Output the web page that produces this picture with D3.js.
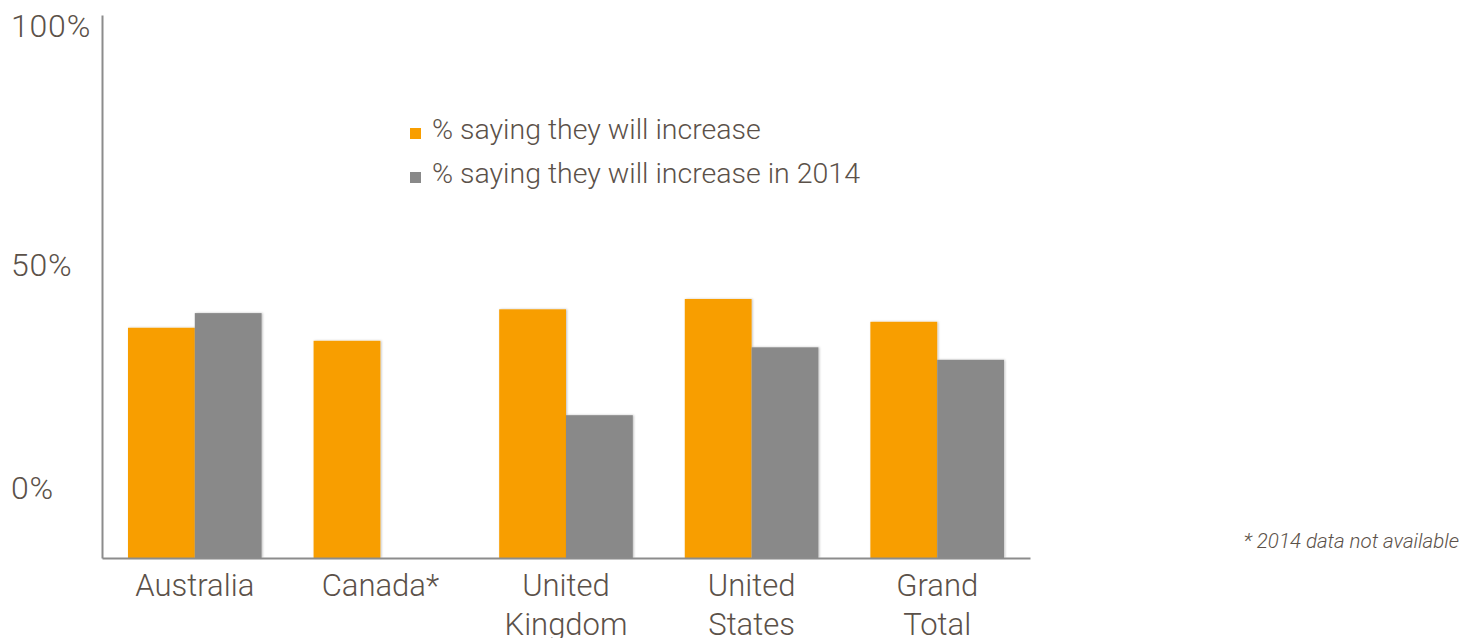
<!DOCTYPE html>
<html>
<head>
<meta charset="utf-8">
<script src="https://cdn.jsdelivr.net/npm/d3@7"></script>
<style>
  body { margin: 0; background: #fff; }
  text { font-family: "Roboto", "Liberation Sans", sans-serif; font-weight: 300; fill: #5b5149; }
</style>
</head>
<body>
<div id="chart"></div>
<script>
// Data
const categories = ["Australia", "Canada*", "United Kingdom", "United States", "Grand Total"];
const categoryLines = [["Australia"], ["Canada*"], ["United", "Kingdom"], ["United", "States"], ["Grand", "Total"]];
const seriesNames = ["% saying they will increase", "% saying they will increase in 2014"];
const increaseNow = [42.4, 40.0, 45.8, 47.7, 43.5];
const increase2014 = [45.1, null, 26.3, 38.8, 36.5];
const tickValues = [0, 50, 100];
const tickLabels = ["0%", "50%", "100%"];
const footnote = "* 2014 data not available";

const colors = ["#f89e00", "#898989"];

const width = 1475, height = 638;

const svg = d3.select("#chart")
  .append("svg")
  .attr("width", width)
  .attr("height", height);

// light shadow on the bars
const defs = svg.append("defs");
const filter = defs.append("filter").attr("id", "shadow")
  .attr("x", "-10%").attr("y", "-10%").attr("width", "120%").attr("height", "120%");
filter.append("feDropShadow")
  .attr("dx", 1).attr("dy", 0).attr("stdDeviation", 0.8)
  .attr("flood-color", "#000").attr("flood-opacity", 0.25);

const x0 = d3.scaleBand()
  .domain(categories)
  .range([102, 1030])
  .paddingInner(0.28)
  .paddingOuter(0.14);

const x1 = d3.scaleBand()
  .domain([0, 1])
  .range([0, x0.bandwidth()]);

const y = d3.scaleLinear()
  .domain([0, 100])
  .range([558, 15]);

// tick labels sit off the value positions in the original
const yLabel = d3.scaleLinear()
  .domain(tickValues)
  .range([488, 265, 26]);

const rows = categories.map(function(c, i) {
  return { cat: c, values: [increaseNow[i], increase2014[i]] };
});

// bars
const groups = svg.append("g")
  .selectAll("g")
  .data(rows)
  .enter().append("g")
  .attr("transform", function(d) { return "translate(" + x0(d.cat) + ",0)"; });

groups.selectAll("rect")
  .data(function(d) {
    return d.values.map(function(v, k) { return { k: k, v: v }; })
      .filter(function(e) { return e.v != null; });
  })
  .enter().append("rect")
  .attr("x", function(d) { return x1(d.k); })
  .attr("width", x1.bandwidth())
  .attr("y", function(d) { return y(d.v); })
  .attr("height", function(d) { return y(0) - y(d.v); })
  .attr("fill", function(d) { return colors[d.k]; })
  .attr("filter", "url(#shadow)");

// y axis line
const yAxis = svg.append("g")
  .attr("transform", "translate(102,0)")
  .call(d3.axisLeft(y).tickValues([]).tickSizeOuter(0));
yAxis.select(".domain").attr("stroke", "#8c8c8c").attr("stroke-width", 2);

// y tick labels
const yLabels = svg.append("g")
  .attr("transform", "translate(11,0)")
  .call(d3.axisRight(yLabel).tickValues(tickValues).tickSize(0).tickPadding(0)
    .tickFormat(function(d, i) { return tickLabels[i]; }));
yLabels.select(".domain").remove();
yLabels.selectAll("text")
  .style("font-size", "32px")
  .style("letter-spacing", "0.8px")
  .style("font-family", null)
  .attr("fill", "#5b5149");

// x axis
const xAxis = svg.append("g")
  .attr("transform", "translate(0,558)")
  .call(d3.axisBottom(x0).tickSize(0).tickSizeOuter(0).tickFormat(""));
xAxis.select(".domain").attr("stroke", "#8c8c8c").attr("stroke-width", 2);

xAxis.selectAll(".tick").each(function(d, i) {
  const t = d3.select(this).append("text")
    .attr("text-anchor", "middle")
    .style("font-size", "31px");
  categoryLines[i].forEach(function(line, j) {
    t.append("tspan")
      .attr("x", 0)
      .attr("y", 38 + j * 39)
      .text(line);
  });
});

// legend
const legend = svg.append("g")
  .attr("transform", "translate(410,128)");
const legendItems = legend.selectAll("g")
  .data(seriesNames)
  .enter().append("g")
  .attr("transform", function(d, i) { return "translate(0," + i * 44 + ")"; });
legendItems.append("rect")
  .attr("width", 11).attr("height", 11)
  .attr("fill", function(d, i) { return colors[i]; });
legendItems.append("text")
  .attr("x", 22).attr("y", 11)
  .style("font-size", "28.5px")
  .text(function(d) { return d; });

// footnote
svg.append("text")
  .attr("x", 1459).attr("y", 548)
  .attr("text-anchor", "end")
  .style("font-size", "20.5px")
  .style("font-style", "italic")
  .text(footnote);
</script>
</body>
</html>
